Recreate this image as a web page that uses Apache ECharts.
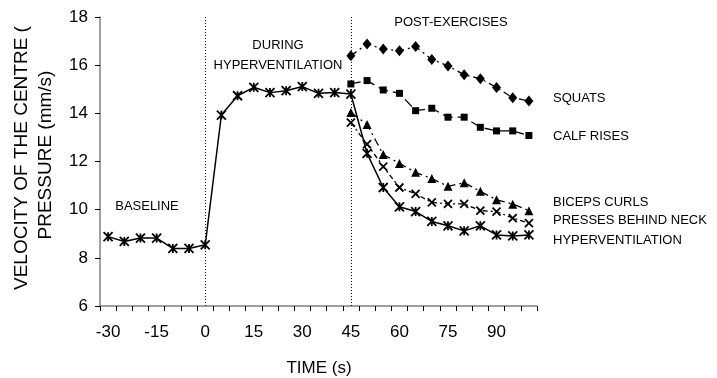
<!DOCTYPE html>
<html>
<head>
<meta charset="utf-8">
<script src="https://cdn.jsdelivr.net/npm/echarts@6/dist/echarts.min.js"></script>
<style>
  html, body { margin: 0; padding: 0; background: #fff; }
  #chart { width: 717px; height: 378px; }
</style>
</head>
<body>
<div id="chart"></div>
<script>
// time (s), one category every 5 s
var categories = ['-30', '-25', '-20', '-15', '-10', '-5', '0', '5', '10', '15', '20', '25', '30', '35',
    '40', '45', '50', '55', '60', '65', '70', '75', '80', '85', '90', '95', '100'];
var yTicks = [6, 8, 10, 12, 14, 16, 18];

// whole protocol, -30 .. 100 s
var hyperventilation = [8.88, 8.68, 8.82, 8.82, 8.39, 8.39, 8.54,
    13.93, 14.73, 15.08, 14.86, 14.94, 15.11, 14.83, 14.86, 14.80,
    12.34, 10.92, 10.12, 9.92, 9.51, 9.33, 9.12, 9.33, 8.95, 8.91, 8.95];
// post exercise series, 45 .. 100 s
var squats = [16.39, 16.88, 16.67, 16.60, 16.77, 16.24, 15.97, 15.60, 15.44, 15.07, 14.65, 14.51];
var calfRises = [15.22, 15.36, 14.97, 14.83, 14.11, 14.21, 13.84, 13.84, 13.42, 13.27, 13.27, 13.08];
var bicepsCurls = [14.03, 13.54, 12.29, 11.92, 11.55, 11.29, 10.97, 11.12, 10.76, 10.41, 10.23, 9.96];
var pressesNeck = [13.61, 12.72, 11.79, 10.92, 10.66, 10.30, 10.24, 10.24, 9.96, 9.92, 9.65, 9.44];

var FONT = 'Liberation Sans, Arial, sans-serif';
var starPath = 'path://M0,0L10,10M10,0L0,10M5,0L5,10';
var crossPath = 'path://M0,0L10,10M10,0L0,10';

// the post series only start at 45 s
var padPost = function(_vals) {
    var out = [];
    var start = categories.indexOf('45');
    for (var i = 0; i < start; i++) {
        out.push('-');
    }
    return out.concat(_vals);
};

var mkLine = function(_name, _data, _symbol, _size, _dash, _stroke) {
    return {
        name: _name,
        type: 'line',
        data: _data,
        symbol: _symbol,
        symbolSize: _size,
        showSymbol: true,
        showAllSymbol: true,
        lineStyle: { color: '#000', width: 1.3, type: _dash },
        itemStyle: _stroke
            ? { color: 'none', borderColor: '#000', borderWidth: 1.8 }
            : { color: '#000', borderColor: '#000', borderWidth: 0 },
        z: 3
    };
};

var txt = function(_x, _y, _s, _size, _align) {
    return {
        type: 'text', x: _x, y: _y, silent: true,
        style: {
            text: _s, fill: '#000', font: _size + 'px ' + FONT,
            align: _align || 'center', verticalAlign: 'middle'
        }
    };
};

var hvSeries = mkLine('HYPERVENTILATION', hyperventilation, starPath, 9, 'solid', true);
hvSeries.lineStyle.width = 1.5;
hvSeries.markLine = {
    silent: true,
    symbol: 'none',
    label: { show: false },
    lineStyle: { color: '#000', width: 1, type: [1, 2] },
    data: [{ xAxis: '0' }, { xAxis: '45' }]
};

var option = {
    animation: false,
    backgroundColor: '#fff',
    grid: { left: 100, top: 17, right: 180, bottom: 72 },
    xAxis: {
        type: 'category',
        data: categories,
        boundaryGap: true,
        axisLine: { lineStyle: { color: '#808080', width: 1.5 } },
        axisTick: { show: true, interval: 0, length: 5, lineStyle: { color: '#000' } },
        axisLabel: { interval: 2, color: '#000', fontSize: 17, fontFamily: FONT, margin: 18 },
        splitLine: { show: false }
    },
    yAxis: {
        type: 'value',
        min: yTicks[0],
        max: yTicks[yTicks.length - 1],
        interval: 2,
        axisLine: { show: true, lineStyle: { color: '#808080', width: 1.5 } },
        axisTick: { show: true, length: 5, lineStyle: { color: '#000' } },
        axisLabel: { color: '#000', fontSize: 17, fontFamily: FONT, margin: 12 },
        splitLine: { show: false }
    },
    series: [
        mkLine('SQUATS', padPost(squats), 'diamond', [9, 11], [7, 4, 2, 4], false),
        mkLine('CALF RISES', padPost(calfRises), 'rect', 7, [10, 5], false),
        mkLine('BICEPS CURLS', padPost(bicepsCurls), 'triangle', 9, [8, 4, 2, 4], false),
        mkLine('PRESSES BEHIND NECK', padPost(pressesNeck), crossPath, 8, [5, 3, 2, 3], true),
        hvSeries
    ],
    graphic: [
        txt(147, 206, 'BASELINE', 13),
        txt(278, 45, 'DURING', 13),
        txt(278, 65, 'HYPERVENTILATION', 13),
        txt(451, 22, 'POST-EXERCISES', 13),
        txt(553, 98, 'SQUATS', 13, 'left'),
        txt(553, 136, 'CALF RISES', 13, 'left'),
        txt(553, 202, 'BICEPS CURLS', 13, 'left'),
        txt(553, 220, 'PRESSES BEHIND NECK', 13, 'left'),
        txt(553, 240, 'HYPERVENTILATION', 13, 'left'),
        txt(319, 368, 'TIME (s)', 17),
        {
            type: 'text', x: 22, y: 290, rotation: Math.PI / 2, silent: true,
            style: { text: 'VELOCITY OF THE CENTRE (', fill: '#000', font: '19px ' + FONT,
                align: 'left', verticalAlign: 'middle' }
        },
        {
            type: 'text', x: 46, y: 155, rotation: Math.PI / 2, silent: true,
            style: { text: 'PRESSURE (mm/s)', fill: '#000', font: '19px ' + FONT,
                align: 'center', verticalAlign: 'middle' }
        }
    ]
};

var chart = echarts.init(document.getElementById('chart'), null, { renderer: 'canvas' });
chart.setOption(option);
</script>
</body>
</html>
